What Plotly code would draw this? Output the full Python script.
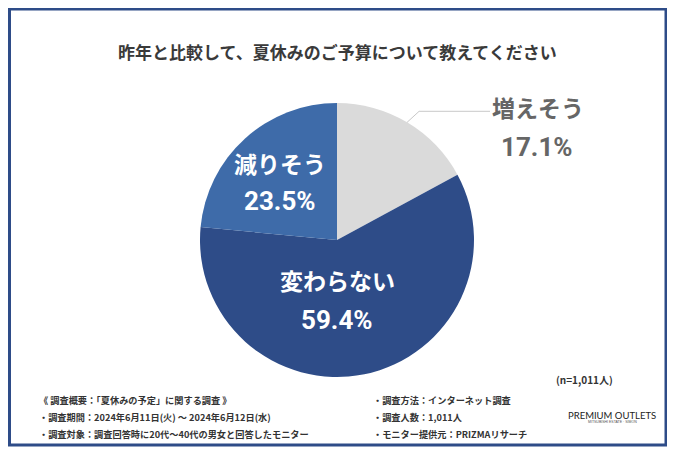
import math
import plotly.graph_objects as go

# ---- data ----
title_text = "昨年と比較して、夏休みのご予算について教えてください"
labels = ["増えそう", "変わらない", "減りそう"]
values = [17.1, 59.4, 23.5]
colors = ["#dadada", "#2e4c88", "#3e6ba9"]
n_text = "(n=1,011人)"
notes_left = [
    "《 調査概要：「夏休みの予定」に関する調査 》",
    "・調査期間：2024年6月11日(火) ～ 2024年6月12日(水)",
    "・調査対象：調査回答時に20代～40代の男女と回答したモニター",
]
notes_right = [
    "・調査方法：インターネット調査",
    "・調査人数：1,011人",
    "・モニター提供元：PRIZMAリサーチ",
]
brand = "PREMIUM OUTLETS"
brand_sub = "MITSUBISHI ESTATE · SIMON"

OFF = 8  # page body margin
W, H = 675 - OFF, 452 - OFF
def px(x):
    return (x - OFF) / W
def py(y):
    return 1 - (y - OFF) / H

JP = "Noto Sans CJK JP"
NUM = "Roboto"

cx, cy, R = 337, 240, 137

fig = go.Figure()
fig.add_trace(go.Pie(
    labels=labels, values=values, sort=False, direction="clockwise", rotation=0,
    marker=dict(colors=colors, line=dict(width=0)),
    textinfo="none", hoverinfo="label+percent", showlegend=False,
    domain=dict(x=[px(cx - R), px(cx + R)], y=[py(cy + R), py(cy - R)]),
))

annotations = []
annotations.append(dict(x=px(cx), y=py(52), text=f"<b>{title_text}</b>", showarrow=False,
                        font=dict(family=JP, size=17, color="#3a3a3a"), xanchor="center", yanchor="middle"))

label_pos = [((538, 107), (537, 147), "#666666"),
             ((337, 280), (337, 320), "#ffffff"),
             ((280, 163), (280, 201), "#ffffff")]
for lab, val, (p1, p2, col) in zip(labels, values, label_pos):
    annotations.append(dict(x=px(p1[0]), y=py(p1[1]), text=f"<b>{lab}</b>", showarrow=False,
                            font=dict(family=JP, size=23, color=col), xanchor="center", yanchor="middle"))
    annotations.append(dict(x=px(p2[0]), y=py(p2[1]), text=f"<b>{val}%</b>", showarrow=False,
                            font=dict(family=NUM, size=26, color=col), xanchor="center", yanchor="middle"))

for i, t in enumerate(notes_left):
    annotations.append(dict(x=px(37), y=py(400 + i * 17), text=f"<b>{t}</b>", showarrow=False,
                            font=dict(family=JP, size=9.2, color="#333333"), xanchor="left", yanchor="middle"))
for i, t in enumerate(notes_right):
    annotations.append(dict(x=px(371), y=py(400 + i * 17), text=f"<b>{t}</b>", showarrow=False,
                            font=dict(family=JP, size=9.2, color="#333333"), xanchor="left", yanchor="middle"))
annotations.append(dict(x=px(584), y=py(379), text=f"<b>{n_text}</b>", showarrow=False,
                        font=dict(family=JP, size=10, color="#333333"), xanchor="center", yanchor="middle"))
annotations.append(dict(x=px(612), y=py(415), text=brand, showarrow=False,
                        font=dict(family="Lato, Liberation Sans", size=9.5, color="#222222"), xanchor="center", yanchor="middle"))
annotations.append(dict(x=px(612), y=py(422), text=brand_sub, showarrow=False,
                        font=dict(family="Liberation Sans", size=3.5, color="#555555"), xanchor="center", yanchor="middle"))

mid_angle = math.radians(values[0] / sum(values) * 360 / 2)
ex, ey = cx + R * math.sin(mid_angle), cy - R * math.cos(mid_angle)
shapes = [
    dict(type="rect", xref="paper", yref="paper", x0=px(9.5), x1=px(666), y0=py(445), y1=py(9),
         line=dict(color="#2e4c88", width=3), fillcolor="rgba(0,0,0,0)"),
    dict(type="path", xref="paper", yref="paper",
         path=f"M {px(ex)} {py(ey)} L {px(ex + 12)} {py(ey - 11)} L {px(490)} {py(ey - 11)}",
         line=dict(color="#c8c8c8", width=1)),
]

fig.update_layout(width=W, height=H, margin=dict(l=0, r=0, t=0, b=0),
                  paper_bgcolor="white", plot_bgcolor="white",
                  annotations=annotations, shapes=shapes)
fig.write_html("out.html")
